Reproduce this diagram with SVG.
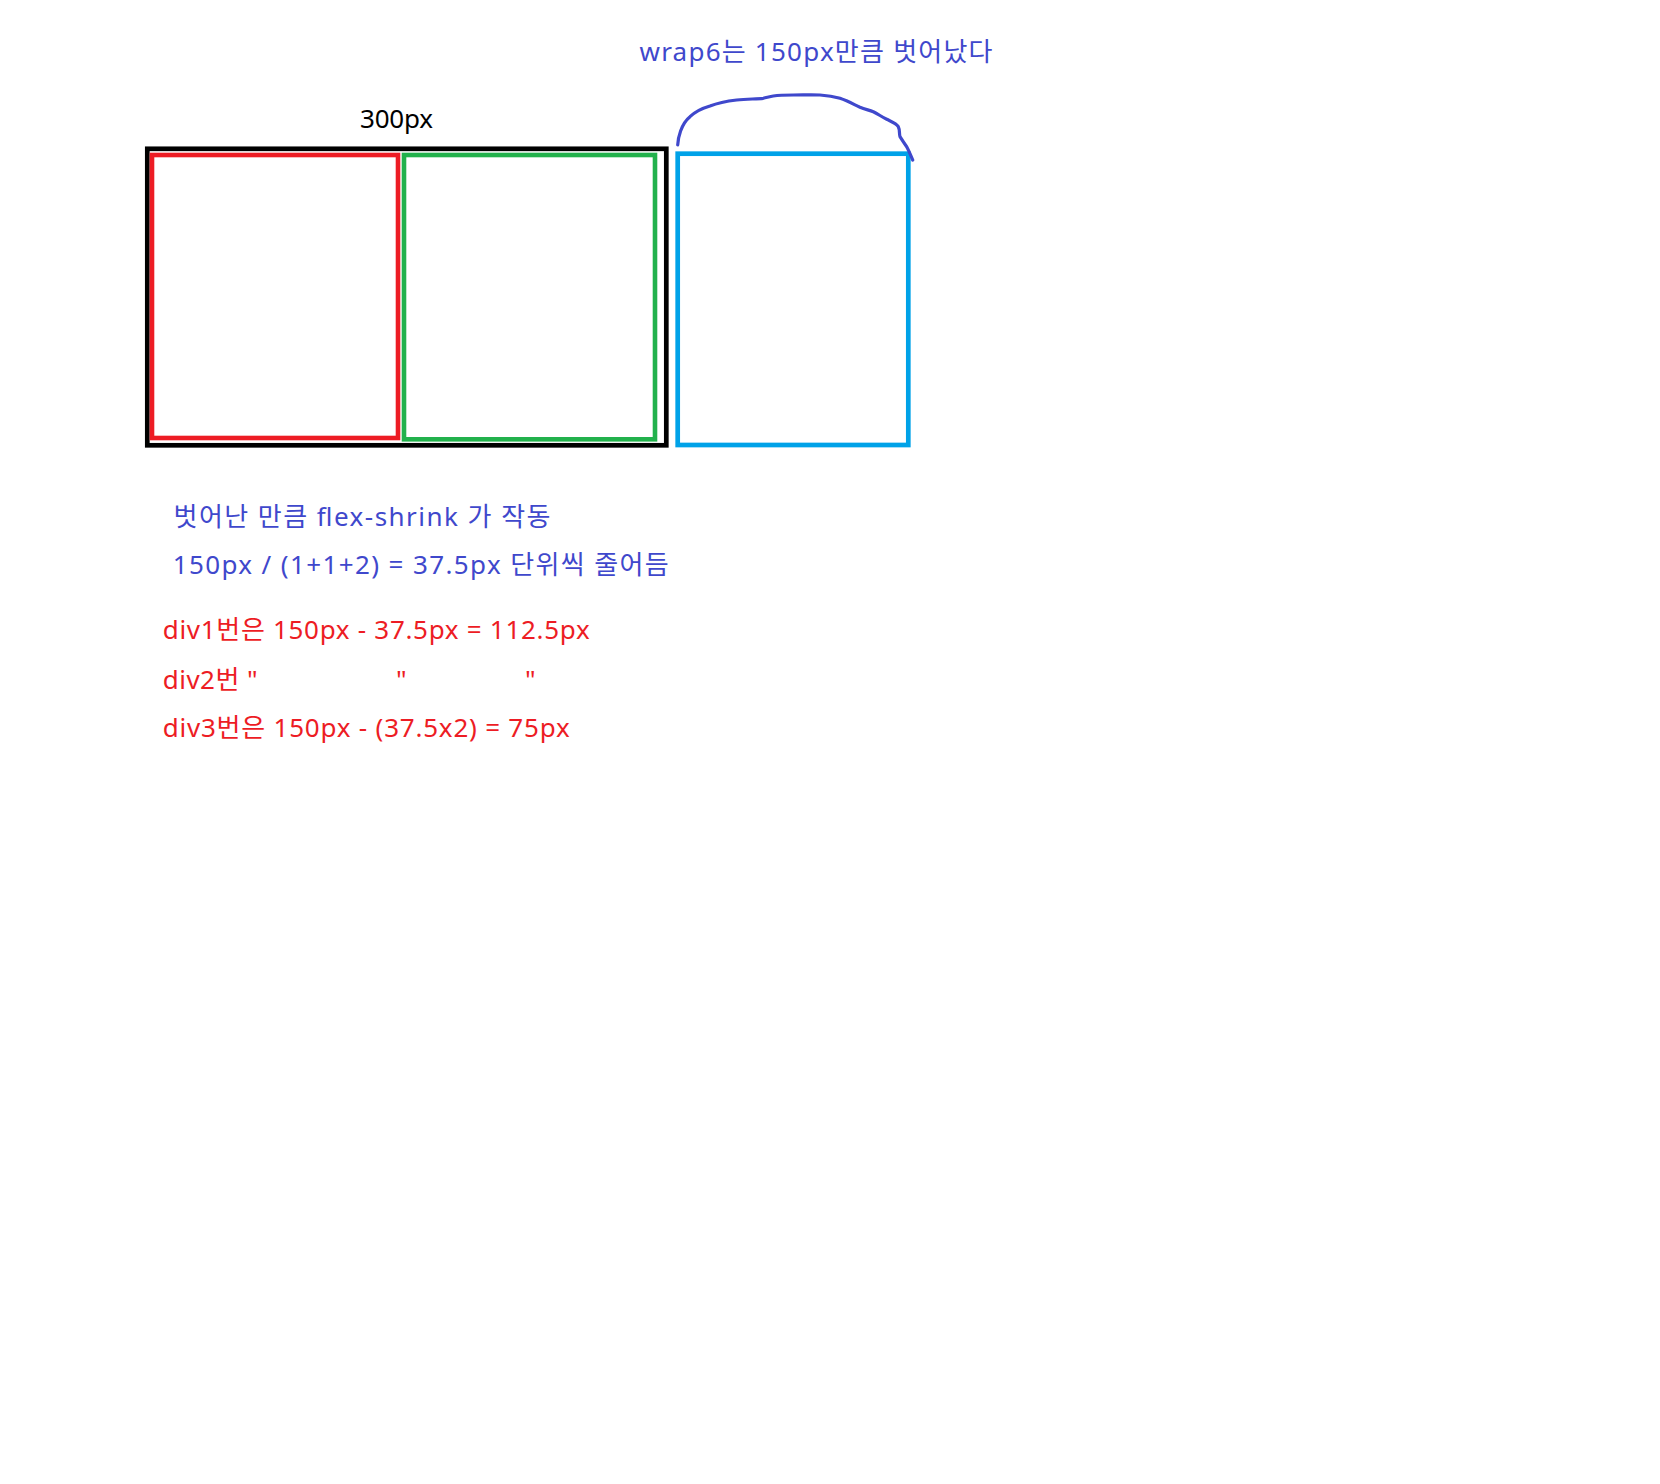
<svg xmlns="http://www.w3.org/2000/svg" width="1660" height="1484" viewBox="0 0 1660 1484">
<style>
text{font-family:"Noto Sans","Noto Sans CJK KR",sans-serif;font-size:26px}
.blue{fill:#3f48cc}
.red{fill:#ed1c24}
.box{fill:none}
</style>
<rect width="1660" height="1484" fill="#ffffff"/>
<g id="wrap">
<rect class="box" x="147.3" y="148.8" width="519" height="296.5" stroke="#000000" stroke-width="4.7"/>
</g>
<g id="div1">
<rect class="box" x="152" y="155" width="246" height="283" stroke="#ed1c24" stroke-width="4.6"/>
</g>
<g id="div2">
<rect class="box" x="404" y="155" width="251" height="284.3" stroke="#22b14c" stroke-width="4.6"/>
</g>
<g id="div3">
<rect class="box" x="677.7" y="153.7" width="230.6" height="291.3" stroke="#00a2e8" stroke-width="4.7"/>
</g>
<g id="connectors">
<path d="M677.7,145 C678,138 681,124 690,116.7 C697,110 703,108 710,106 C720,102 728,101 736.7,100 C748,99 757,99 763.3,98.3 C767,97.5 770,96.5 773.3,96 C780,95 787,95 793.3,95 C803,95 812,94.5 820,95 C828,95.5 834,96.5 840,98.3 C848,101 853,104 860,107.3 C865,109.5 869,110 873.3,111.7 C878,114 882,117 886.7,119.3 C891,121.5 896,123 898.3,126.7 C900,130 899,133 900,136.7 C902,140 904,143 906.7,146.7 C909,151 911,156 912.7,160" fill="none" stroke="#3f48cc" stroke-width="3.2" stroke-linecap="round" stroke-linejoin="round"/>
</g>
<g id="labels">
<text x="360" y="128" fill="#000000" textLength="73" lengthAdjust="spacing">300px</text>
<text class="blue" x="639.5" y="61" textLength="353" lengthAdjust="spacing">wrap6는 150px만큼 벗어났다</text>
<text class="blue" x="173.5" y="526" textLength="377" lengthAdjust="spacing">벗어난 만큼 flex-shrink 가 작동</text>
<text class="blue" x="172.7" y="574" textLength="496" lengthAdjust="spacing">150px / (1+1+2) = 37.5px 단위씩 줄어듬</text>
<text class="red" x="162.7" y="639.3" textLength="427" lengthAdjust="spacing">div1번은 150px - 37.5px = 112.5px</text>
<text class="red" x="162.7" y="689.3" textLength="95" lengthAdjust="spacing">div2번 "</text>
<text class="red" x="396" y="689.3">"</text>
<text class="red" x="525" y="689.3">"</text>
<text class="red" x="162.7" y="736.7" textLength="407" lengthAdjust="spacing">div3번은 150px - (37.5x2) = 75px</text>
</g>
</svg>
